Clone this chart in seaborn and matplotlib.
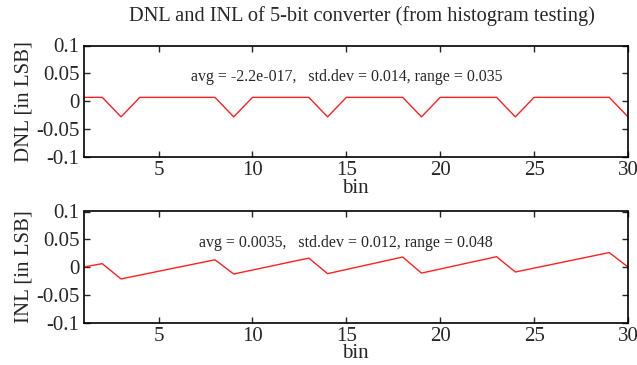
import numpy as np
import pandas as pd
import matplotlib
matplotlib.use("Agg")
import matplotlib.pyplot as plt
import seaborn as sns

bins = list(range(1, 31))
dnl = [0.007, 0.007, -0.028, 0.007, 0.007, 0.007, 0.007, 0.007, -0.028, 0.007,
       0.007, 0.007, 0.007, -0.028, 0.007, 0.007, 0.007, 0.007, -0.028, 0.007,
       0.007, 0.007, 0.007, -0.028, 0.007, 0.007, 0.007, 0.007, 0.007, -0.028]
inl = [0.0, 0.006, -0.0215, -0.0146, -0.0077, -0.0008, 0.0061, 0.013, -0.0126, -0.0055,
       0.0017, 0.0089, 0.016, -0.012, -0.0045, 0.003, 0.0105, 0.018, -0.011, -0.0036,
       0.0038, 0.0112, 0.0186, -0.009, -0.002, 0.005, 0.012, 0.019, 0.026, 0.0]
title = "DNL and INL of 5-bit converter (from histogram testing)"
dnl_text = "avg = -2.2e-017,   std.dev = 0.014, range = 0.035"
inl_text = "avg = 0.0035,   std.dev = 0.012, range = 0.048"
xticks = [5, 10, 15, 20, 25, 30]
yticks = [-0.1, -0.05, 0, 0.05, 0.1]
ytick_labels = ["-0.1", "-0.05", "0", "0.05", "0.1"]

sns.set_style("ticks")
plt.rcParams['font.family'] = ['Liberation Serif', 'DejaVu Serif']

df = pd.DataFrame({"bin": bins, "DNL": dnl, "INL": inl})

fig = plt.figure(figsize=(6.37, 3.65), dpi=100)
ax1 = fig.add_axes([83.5/637, 1-157/365, 544.5/637, 111.5/365])
ax2 = fig.add_axes([83.5/637, 1-322.5/365, 544.5/637, 111/365])

for ax, col, lab, txt in [(ax1, "DNL", "DNL [in LSB]", dnl_text),
                          (ax2, "INL", "INL [in LSB]", inl_text)]:
    sns.lineplot(data=df, x="bin", y=col, ax=ax, color="#ff2020", linewidth=1.0)
    ax.set_xlim(1, 30)
    ax.set_ylim(-0.1, 0.1)
    ax.set_xticks(xticks)
    ax.set_xticklabels([str(t) for t in xticks], fontsize=15)
    ax.set_yticks(yticks)
    ax.set_yticklabels(ytick_labels, fontsize=15)
    ax.tick_params(direction="in", top=True, right=True, length=4, width=1, pad=3)
    for s in ax.spines.values():
        s.set_visible(True)
        s.set_linewidth(1.2)
        s.set_color("black")
    ax.set_xlabel("bin", fontsize=15, labelpad=-1)
    ax.set_ylabel(lab, fontsize=15, labelpad=2)
    ax.text(15, 0.044, txt, ha="center", va="center", fontsize=11.4)

fig.text(362/637, 1-16/365, title, ha="center", va="center", fontsize=14.7)

fig.savefig("out.png", dpi=100)
